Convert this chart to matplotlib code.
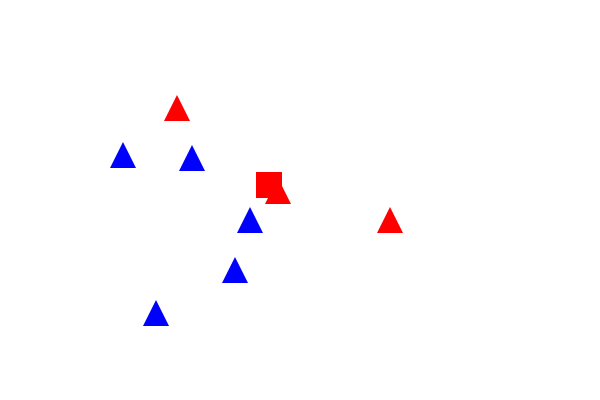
import matplotlib
matplotlib.use("Agg")
import matplotlib.pyplot as plt

red_tri_x = [176.5, 277.5, 389.5]
red_tri_y = [108, 191, 219.5]
blue_tri_x = [122.7, 191.5, 250.3, 234.5, 156.3]
blue_tri_y = [154.5, 158.3, 219.5, 270.3, 313]
red_sq_x = [269.3]
red_sq_y = [185]

fig = plt.figure(figsize=(6, 4), dpi=100)
ax = fig.add_axes([0, 0, 1, 1])
ax.set_xlim(0, 600)
ax.set_ylim(400, 0)
ax.axis("off")

ax.plot(blue_tri_x, blue_tri_y, linestyle="none", marker="^", color="#0000ff",
        markersize=18.5, markeredgewidth=0)
ax.plot(red_tri_x, red_tri_y, linestyle="none", marker="^", color="#ff0000",
        markersize=18.5, markeredgewidth=0)
ax.plot(red_sq_x, red_sq_y, linestyle="none", marker="s", color="#ff0000",
        markersize=18.2, markeredgewidth=0)

fig.savefig("out.png", dpi=100)
